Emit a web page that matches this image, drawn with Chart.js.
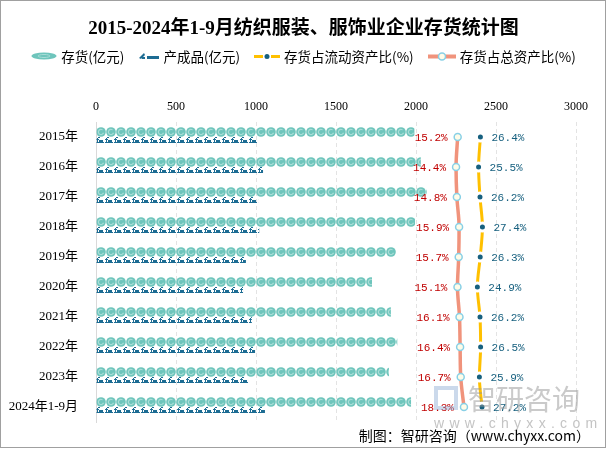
<!DOCTYPE html>
<html>
<head>
<meta charset="utf-8">
<script src="https://cdn.jsdelivr.net/npm/chart.js@4.4.1/dist/chart.umd.min.js"></script>
<style>
  body { margin: 0; background: #fff; }
  #wrap { position: relative; width: 607px; height: 449px; font-family: "Noto Sans CJK SC", sans-serif; }
  #chart { position: absolute; left: 0; top: 0; }
  #title { position: absolute; left: 0; top: 12px; width: 607px; text-align: center; line-height: 24px;
           font: bold 19px "Liberation Serif", "Noto Sans CJK SC", serif; color: #000; }
  #legend { position: absolute; left: 0; top: 46px; width: 607px; height: 20px; display: flex;
            justify-content: center; align-items: center; font-size: 13.5px; color: #000; }
  #legend .item { display: flex; align-items: center; margin: 0 7px; }
  #legend canvas { margin-right: 4px; }
  #wm-logo { position: absolute; left: 434px; top: 383px; width: 160px; height: 30px; display: flex; align-items: center;
             font-size: 28px; line-height: 30px; color: rgba(150,150,150,0.5); white-space: nowrap; }
  #wm-logo .box { width: 24px; height: 24px; margin-right: 10px; border: 4px solid rgba(140,170,210,0.45); box-sizing: border-box; }
  #wm-url { position: absolute; left: 434px; top: 415px; width: 170px; font: 14px "Liberation Sans", sans-serif;
            line-height: 16px; letter-spacing: 5.3px; color: #c4c4c4; white-space: nowrap; }
  #footer { position: absolute; right: 17px; top: 425px; line-height: 20px; font-size: 14px; color: #000; white-space: nowrap; }
</style>
</head>
<body>
<div id="wrap">
  <canvas id="chart" width="607" height="449"></canvas>
  <div id="title">2015-2024年1-9月纺织服装、服饰业企业存货统计图</div>
  <div id="legend"></div>
  <div id="wm-logo"><div class="box"></div>智研咨询</div>
  <div id="wm-url">www.chyxx.com</div>
  <div id="footer">制图：智研咨询（www.chyxx.com）</div>
</div>
<script>
// 数据
const years = ['2015年', '2016年', '2017年', '2018年', '2019年', '2020年', '2021年', '2022年', '2023年', '2024年1-9月'];
const inventory = [1990, 2030, 2068, 1994, 1875, 1725, 1843, 1883, 1831, 1969];   // 存货(亿元)
const finished = [1006, 1044, 1013, 1020, 937, 919, 974, 994, 950, 1056];         // 产成品(亿元)
const currentRatio = [26.4, 25.5, 26.2, 27.4, 26.3, 24.9, 26.2, 26.5, 25.9, 27.2]; // 存货占流动资产比(%)
const totalRatio = [15.2, 14.4, 14.8, 15.9, 15.7, 15.1, 16.1, 16.4, 16.7, 18.3];   // 存货占总资产比(%)
const xTicks = [0, 500, 1000, 1500, 2000, 2500, 3000];

const teal = '#6EC5BC', tealLight = '#A9DDD7', navy = '#1D6C93';
const yellow = '#FFC000', dotBlue = '#17607F', salmon = '#F0937C';

// 图案填充
function makeCanvas(w, h) {
  const c = document.createElement('canvas');
  c.width = w; c.height = h;
  return c;
}
const invTile = makeCanvas(10, 10);
{
  const g = invTile.getContext('2d');
  g.fillStyle = teal;
  g.beginPath(); g.arc(5, 5, 4.8, 0, Math.PI * 2); g.fill();
  g.strokeStyle = tealLight; g.lineWidth = 1.2;
  g.beginPath(); g.arc(5, 5, 2.6, 0.3, Math.PI * 1.7); g.stroke();
}
const finTile = makeCanvas(9, 6);
{
  const g = finTile.getContext('2d');
  g.fillStyle = navy;
  g.fillRect(1, 1, 1, 4);
  g.fillRect(2, 0, 2, 1);
  g.fillRect(0, 2, 3, 1);
  g.fillRect(3, 3, 4, 2);
  g.fillRect(0, 5, 8, 1);
}
const ctx = document.getElementById('chart').getContext('2d');
const invPattern = ctx.createPattern(invTile, 'repeat');
const finPattern = ctx.createPattern(finTile, 'repeat');

// 图例
const legendItems = [
  ['存货(亿元)', (g) => {
    g.fillStyle = teal; g.beginPath(); g.ellipse(13, 5, 12.5, 3.5, 0, 0, Math.PI * 2); g.fill();
    g.strokeStyle = tealLight; g.lineWidth = 1; g.beginPath(); g.ellipse(13, 5, 6, 1.5, 0, 0, Math.PI * 2); g.stroke();
  }, 26],
  ['产成品(亿元)', (g) => {
    g.fillStyle = navy;
    g.beginPath(); g.moveTo(1, 7); g.lineTo(6, 2); g.lineTo(7, 4); g.lineTo(3, 8); g.fill();
    g.fillRect(4, 6, 3, 2);
    g.fillRect(9, 5, 12, 3);
  }, 21],
  ['存货占流动资产比(%)', (g) => {
    g.fillStyle = yellow; g.fillRect(0, 4, 9, 3); g.fillRect(17, 4, 9, 3);
    g.fillStyle = dotBlue; g.beginPath(); g.arc(13, 5.5, 2.5, 0, Math.PI * 2); g.fill();
  }, 26],
  ['存货占总资产比(%)', (g) => {
    g.fillStyle = salmon; g.fillRect(0, 3.5, 28, 4);
    g.fillStyle = '#FFFCE8'; g.strokeStyle = '#88D0E6'; g.lineWidth = 1.5;
    g.beginPath(); g.arc(14, 5.5, 3.5, 0, Math.PI * 2); g.fill(); g.stroke();
  }, 28]
];
const legendEl = document.getElementById('legend');
legendItems.forEach(([text, draw, w]) => {
  const item = document.createElement('div');
  item.className = 'item';
  const c = makeCanvas(w, 11);
  draw(c.getContext('2d'));
  item.appendChild(c);
  const s = document.createElement('span');
  s.textContent = text;
  item.appendChild(s);
  legendEl.appendChild(item);
});

// 图案对齐到柱子起点
const patternAlign = {
  id: 'patternAlign',
  beforeDatasetsDraw(chart) {
    chart.data.datasets.forEach((ds, i) => {
      if (ds.type === 'line') return;
      const el = chart.getDatasetMeta(i).data[0];
      if (!el) return;
      const top = el.y - el.height / 2;
      ds.backgroundColor.setTransform(new DOMMatrix().translate(chart.chartArea.left, top));
    });
  }
};

// 百分比标签
const pctLabels = {
  id: 'pctLabels',
  afterDatasetsDraw(chart) {
    const g = chart.ctx;
    g.save();
    g.font = '11px "Liberation Mono", monospace';
    g.textBaseline = 'middle';
    chart.data.datasets.forEach((ds, i) => {
      if (ds.type !== 'line') return;
      chart.getDatasetMeta(i).data.forEach((pt, j) => {
        const txt = ds.data[j].toFixed(1) + '%';
        g.fillStyle = ds.labelColor;
        if (ds.labelSide === 'left') {
          g.textAlign = 'right';
          g.fillText(txt, pt.x - 10, pt.y + 1);
        } else {
          g.textAlign = 'left';
          g.fillText(txt, pt.x + 11, pt.y + 1);
        }
      });
    });
    g.restore();
  }
};

const frame = {
  id: 'frame',
  afterDraw(chart) {
    const g = chart.ctx;
    g.save();
    g.strokeStyle = '#a0a0a0';
    g.lineWidth = 1;
    g.strokeRect(0.5, 0.5, 605, 447);
    g.restore();
  }
};

new Chart(ctx, {
  type: 'bar',
  data: {
    labels: years,
    datasets: [
      {
        type: 'line', label: '存货占流动资产比(%)', data: currentRatio, xAxisID: 'x2', order: 0,
        borderColor: yellow, borderWidth: 3, cubicInterpolationMode: 'monotone',
        pointRadius: 4, pointBorderWidth: 3, pointBackgroundColor: dotBlue, pointBorderColor: '#fff',
        labelColor: '#17607F', labelSide: 'right'
      },
      {
        type: 'line', label: '存货占总资产比(%)', data: totalRatio, xAxisID: 'x2', order: 0,
        borderColor: salmon, borderWidth: 3.5, cubicInterpolationMode: 'monotone',
        pointRadius: 3.5, pointBorderWidth: 1.5, pointBackgroundColor: '#FFFCE8', pointBorderColor: '#88D0E6',
        labelColor: '#C00000', labelSide: 'left'
      },
      {
        label: '存货(亿元)', data: inventory, xAxisID: 'x', order: 1,
        backgroundColor: invPattern, barThickness: 10, inflateAmount: 0
      },
      {
        label: '产成品(亿元)', data: finished, xAxisID: 'x', order: 1,
        backgroundColor: finPattern, barThickness: 6, inflateAmount: 0
      }
    ]
  },
  options: {
    indexAxis: 'y',
    responsive: false,
    animation: false,
    layout: { padding: { top: 92, left: 0, right: 31, bottom: 27 } },
    plugins: {
      legend: { display: false },
      title: { display: false },
      tooltip: { enabled: false }
    },
    scales: {
      x: {
        position: 'top',
        min: 0, max: 3000,
        afterBuildTicks: s => { s.ticks = xTicks.map(v => ({ value: v })); },
        afterFit: s => { s.height = 30; },
        ticks: {
          color: '#000', padding: 8, callback: v => String(v),
          font: { size: 12, family: '"Liberation Serif", "Noto Sans CJK SC"' }
        },
        grid: { color: '#e3e3e3', drawTicks: false },
        border: { display: false, dash: [4, 3] }
      },
      x2: {
        display: false,
        position: 'top',
        min: -163, max: 73.5
      },
      y: {
        afterFit: s => { s.width = 96; },
        ticks: { color: '#000', padding: 10, font: { size: 13, family: '"Liberation Serif", "Noto Sans CJK SC"' } },
        grid: { display: false },
        border: { display: true, color: '#d9d9d9', width: 1 }
      }
    }
  },
  plugins: [patternAlign, pctLabels, frame]
});
</script>
</body>
</html>
